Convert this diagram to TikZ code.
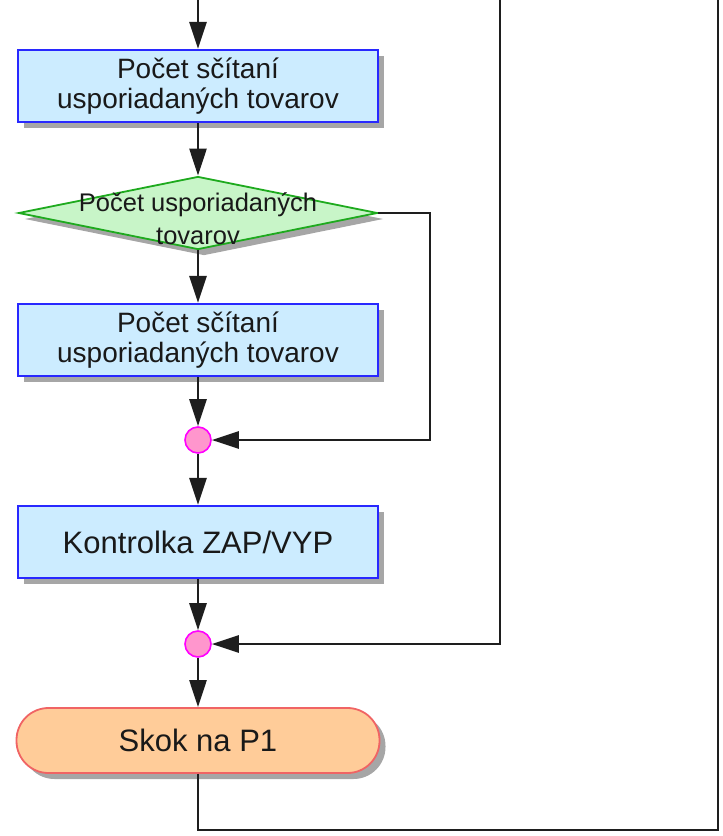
\documentclass[tikz,border=0pt]{standalone}
\usepackage{fontspec}
\setmainfont{Liberation Sans}
\usetikzlibrary{shapes.geometric,arrows.meta,shadows}

\definecolor{procfill}{RGB}{204,236,255}
\definecolor{procborder}{RGB}{40,40,255}
\definecolor{decfill}{RGB}{200,245,200}
\definecolor{decborder}{RGB}{30,170,30}
\definecolor{joinfill}{RGB}{255,150,205}
\definecolor{joinborder}{RGB}{255,0,255}
\definecolor{termfill}{RGB}{255,204,153}
\definecolor{termborder}{RGB}{240,100,100}
\definecolor{linecol}{RGB}{30,30,30}
\definecolor{textcol}{RGB}{25,25,25}

\begin{document}
\begin{tikzpicture}[x=1pt,y=-1pt,
  shade/.style={drop shadow={shadow xshift=6pt,shadow yshift=-6pt,fill=black!50,opacity=.7}},
  proc/.style={rectangle,draw=procborder,fill=procfill,line width=2.2pt,
    minimum width=360pt,minimum height=72pt,inner sep=0pt,align=center,
    font=\fontsize{28}{30}\selectfont,text=textcol,shade},
  bigtext/.style={font=\fontsize{31}{33}\selectfont},
  decision/.style={diamond,draw=decborder,fill=decfill,line width=1.8pt,
    minimum width=359pt,minimum height=73pt,inner sep=0pt,shade},
  joinpt/.style={circle,draw=joinborder,fill=joinfill,line width=1.6pt,
    minimum size=26pt,inner sep=0pt},
  terminal/.style={rectangle,rounded corners=32pt,draw=termborder,fill=termfill,
    line width=1.8pt,minimum width=363pt,minimum height=65pt,inner sep=0pt,
    text=textcol,bigtext,shade},
  conn/.style={line width=2.6pt,draw=linecol,-{Triangle[length=27pt,width=17pt]}},
  wire/.style={line width=2.6pt,draw=linecol}]

  \useasboundingbox (0,0) rectangle (723,836);

  % nodes of the flow
  \node[proc] (box1) at (198,86) {Počet sčítaní\\usporiadaných tovarov};
  \node[decision,label={[font=\fontsize{25.5}{33}\selectfont,text=textcol,align=center,yshift=-6pt]center:Počet usporiadaných\\tovarov}] (dia) at (198,213) {};
  \node[proc] (box2) at (198,340) {Počet sčítaní\\usporiadaných tovarov};
  \node[joinpt] (c1) at (198,440) {};
  \node[proc,bigtext] (box3) at (198,542) {Kontrolka ZAP/VYP};
  \node[joinpt] (c2) at (198,644) {};
  \node[terminal] (term) at (198,740.5) {Skok na P1};

  % free ends and bends of the connectors
  \coordinate (in1) at (198,0);
  \coordinate (in2) at (500,0);
  \coordinate (bend1) at (430,213);
  \coordinate (low) at (198,830);
  \coordinate (out) at (718,0);

  % connectors
  \draw[conn] (in1) -- (box1.north);
  \draw[conn] (box1.south) -- (dia.north);
  \draw[conn] (dia.south) -- (box2.north);
  \draw[conn] (box2.south) -- (c1.north);
  \draw[conn] (dia.east) -- (bend1) |- (c1.east);
  \draw[conn] (c1.south) -- (box3.north);
  \draw[conn] (box3.south) -- (c2.north);
  \draw[conn] (in2) |- (c2.east);
  \draw[conn] (c2.south) -- (term.north);
  \draw[wire] (term.south) -- (low) -| (out);
\end{tikzpicture}
\end{document}
